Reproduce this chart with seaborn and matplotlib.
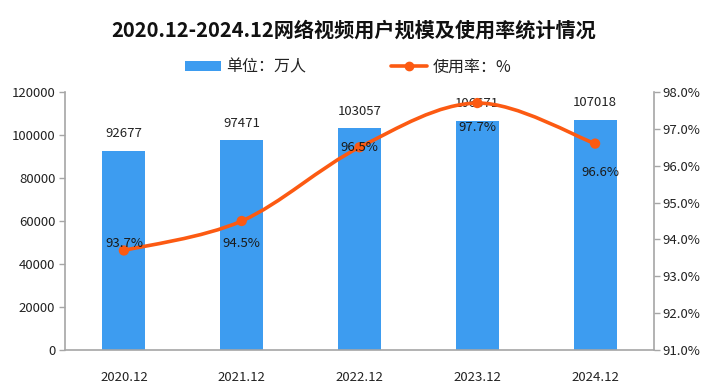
import matplotlib
matplotlib.use("Agg")
import matplotlib.pyplot as plt
import seaborn as sns
import pandas as pd
import numpy as np
from matplotlib.path import Path
from matplotlib.patches import PathPatch, Patch
from matplotlib.lines import Line2D

categories = ["2020.12", "2021.12", "2022.12", "2023.12", "2024.12"]
users = [92677, 97471, 103057, 106671, 107018]
rate = [93.7, 94.5, 96.5, 97.7, 96.6]
left_ticks = [0, 20000, 40000, 60000, 80000, 100000, 120000]
right_ticks = [91, 92, 93, 94, 95, 96, 97, 98]

sns.set_theme(style="white")
plt.rcParams['font.family'] = ['Noto Sans CJK SC', 'DejaVu Sans']

BLUE = "#3d9cf0"
ORANGE = "#fc5a12"
GRAY = "#a6a6a6"

fig = plt.figure(figsize=(7.12, 3.88), dpi=100)
ax = fig.add_axes([65/712, 38/388, 589/712, 258/388])

df = pd.DataFrame({"cat": categories, "users": users})
sns.barplot(data=df, x="cat", y="users", color=BLUE, width=0.365, ax=ax,
            saturation=1, edgecolor="none")
ax.set_xlim(-0.5, len(categories) - 0.5)
ax.set_ylim(0, 120000)
ax.set_yticks(left_ticks)
ax.set_yticklabels([str(t) for t in left_ticks])
ax.set_xlabel("")
ax.set_ylabel("")

# category boundary ticks
ax.set_xticks(np.arange(-0.5, len(categories) + 0.5, 1.0), minor=False)
ax.set_xticklabels([""] * (len(categories) + 1))
ax.set_xticks(np.arange(len(categories)), minor=True)
ax.set_xticklabels(categories, minor=True)
ax.tick_params(axis="x", which="major", length=5, color=GRAY, width=1, direction="out")
ax.tick_params(axis="x", which="minor", length=0, pad=15, labelsize=9.5, labelcolor="#222222")
ax.tick_params(axis="y", length=4, color=GRAY, width=1, direction="out", labelsize=9.5,
               labelcolor="#222222", pad=3)

for s in ["top", "right"]:
    ax.spines[s].set_visible(False)
for s in ["left", "bottom"]:
    ax.spines[s].set_color(GRAY)
    ax.spines[s].set_linewidth(1.2)

for i, v in enumerate(users):
    ax.annotate(str(v), (i, v), xytext=(0, 17), textcoords="offset pixels",
                ha="center", va="center", fontsize=9.5, color="#222222")

ax2 = ax.twinx()
ax2.set_ylim(91, 98)
ax2.set_yticks(right_ticks)
ax2.set_yticklabels([f"{t:.1f}%" for t in right_ticks])
ax2.tick_params(axis="y", length=4, color=GRAY, width=1, direction="out", labelsize=9.5,
                labelcolor="#222222", pad=2)
for s in ["top", "left", "bottom"]:
    ax2.spines[s].set_visible(False)
ax2.spines["right"].set_color(GRAY)
ax2.spines["right"].set_linewidth(1.2)
ax2.grid(False)
ax.grid(False)

# smooth curve (Catmull-Rom -> cubic Bezier) through the data points
xs = np.arange(len(rate), dtype=float)
ys = np.array(rate, dtype=float)
pts = np.column_stack([xs, ys])
verts = [tuple(pts[0])]
codes = [Path.MOVETO]
n = len(pts)
for i in range(n - 1):
    p0 = pts[i - 1] if i > 0 else pts[i]
    p1 = pts[i]
    p2 = pts[i + 1]
    p3 = pts[i + 2] if i + 2 < n else pts[i + 1]
    c1 = p1 + (p2 - p0) / 6.0
    c2 = p2 - (p3 - p1) / 6.0
    verts += [tuple(c1), tuple(c2), tuple(p2)]
    codes += [Path.CURVE4] * 3
ax2.add_patch(PathPatch(Path(verts, codes), facecolor="none", edgecolor=ORANGE,
                        lw=2.6, capstyle="round", zorder=3))
sns.scatterplot(x=xs, y=ys, color=ORANGE, s=55, edgecolor="none", ax=ax2, zorder=4,
                legend=False)

label_offsets = [(0, 7), (0, -22), (0, 0), (0, -24), (5, -29)]
for i, v in enumerate(rate):
    ax2.annotate(f"{v:.1f}%", (i, v), xytext=label_offsets[i], textcoords="offset pixels",
                 ha="center", va="center", fontsize=9.5, color="#1a1a1a", zorder=5)

fig.text(354/712, 1 - 30/388, "2020.12-2024.12网络视频用户规模及使用率统计情况",
         ha="center", va="center", fontsize=14.5, fontweight="bold", color="#111111")

handles = [Patch(facecolor=BLUE, edgecolor="none"),
           Line2D([0], [0], color=ORANGE, lw=2.6, marker="o", markersize=6)]
fig.legend(handles, ["单位：万人", "使用率：%"], loc="center",
           bbox_to_anchor=(348/712, 1 - 67/388), ncol=2, frameon=False, fontsize=11.5,
           handlelength=2.25, handleheight=0.6, columnspacing=5.3, handletextpad=0.35,
           labelcolor="#222222")

fig.savefig("out.png", dpi=100)
